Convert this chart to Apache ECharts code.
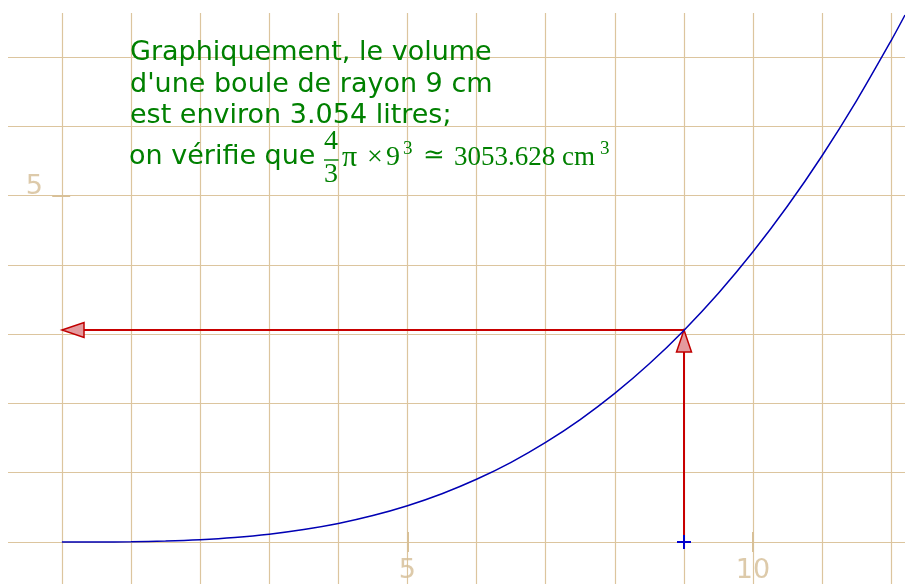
<!DOCTYPE html>
<html><head><meta charset="utf-8">
<script src="https://cdn.jsdelivr.net/npm/echarts@6/dist/echarts.min.js"></script>
<style>html,body{margin:0;padding:0;background:#fff}#c{width:905px;height:584px}</style>
</head><body><div id="c"></div>
<script>
// rayon (cm) and volume (litres)
const radius = [0,0.5,1,1.5,2,2.5,3,3.5,4,4.5,5,5.5,6,6.5,7,7.5,8,8.5,9,9.5,10,10.5,11,11.5,12,12.2];
const volume = [0,0.0005,0.0042,0.0141,0.0335,0.0654,0.113,0.180,0.268,0.382,0.524,0.697,0.905,1.150,1.437,1.767,2.145,2.572,3.054,3.591,4.189,4.849,5.575,6.371,7.238,7.606];
const xGridValues = [0,1,2,3,4,5,6,7,8,9,10,11,12];
const yGridValues = [0,1,2,3,4,5,6,7];
const xTickLabels = [5, 10];
const yTickLabels = [5];
const targetRadius = 9;
const targetVolume = 3.054;
const textLines = ["Graphiquement, le volume", "d'une boule de rayon 9 cm", "est environ 3.054 litres;"];
const formulaPrefix = "on vérifie que";
const fracNum = "4", fracDen = "3";
const formulaPi = "π", formulaTimes = "×", formulaNine = "9", formulaSup = "3", formulaRel = "≃", formulaValue = "3053.628", formulaUnit = "cm";

const GRID = '#dcc59e', TICK = '#d8c097', LABEL = '#d5bd95', GREEN = '#008000';
const SANS = 'DejaVu Sans', SERIF = 'Liberation Serif';

const chart = echarts.init(document.getElementById('c'), null, {renderer: 'canvas'});

function arrowItem(params, api) {
  const p1 = api.coord([api.value(0), api.value(1)]).map(Math.round);
  const p2 = api.coord([api.value(2), api.value(3)]).map(Math.round);
  const dx = p2[0]-p1[0], dy = p2[1]-p1[1];
  const L = Math.hypot(dx, dy), ux = dx/L, uy = dy/L;
  const hl = 22, hw = 7.5;
  const bx = p2[0]-ux*hl, by = p2[1]-uy*hl;
  const nx = -uy, ny = ux;
  return {type:'group', children:[
    {type:'line', shape:{x1:p1[0], y1:p1[1], x2:bx, y2:by}, style:{stroke:'#c80000', lineWidth:2}},
    {type:'polygon', shape:{points:[[p2[0],p2[1]],[bx+nx*hw,by+ny*hw],[bx-nx*hw,by-ny*hw]]},
     style:{fill:'#e49a9e', stroke:'#c00000', lineWidth:1.5}}
  ]};
}
function plusItem(params, api) {
  const p = api.coord([api.value(0), api.value(1)]).map(Math.round);
  const s = 7;
  return {type:'group', children:[
    {type:'line', shape:{x1:p[0]-s, y1:p[1], x2:p[0]+s, y2:p[1]}, style:{stroke:'#0000cc', lineWidth:2}},
    {type:'line', shape:{x1:p[0], y1:p[1]-s, x2:p[0], y2:p[1]+s}, style:{stroke:'#0000cc', lineWidth:2}}
  ]};
}

const tickSegments = [];
xTickLabels.forEach(v => tickSegments.push([{coord:[v,-0.145]},{coord:[v,0.145]}]));
yTickLabels.forEach(v => tickSegments.push([{coord:[-0.14,v]},{coord:[0.12,v]}]));

const gridLines = xGridValues.map(v => ({xAxis: v})).concat(yGridValues.map(v => ({yAxis: v})));

const mathStyle = {fontFamily: SERIF, fontSize: 27, fill: GREEN, verticalAlign: 'middle', align: 'left'};
const sansStyle = {fontFamily: SANS, fontSize: 27, fill: GREEN, verticalAlign: 'middle', align: 'left'};
const graphics = [];
function addText(x, y, style) { graphics.push({type:'text', x:x, y:y, z:100, style:style}); }
textLines.forEach((t, i) => addText(130, 53 + i*31.7, Object.assign({}, sansStyle, {text:t})));
addText(129, 157, Object.assign({}, sansStyle, {text:formulaPrefix}));
addText(331, 142, Object.assign({}, mathStyle, {text:fracNum, align:'center', fontSize:28}));
addText(331, 175, Object.assign({}, mathStyle, {text:fracDen, align:'center', fontSize:28}));
graphics.push({type:'line', z:100, shape:{x1:324, y1:160, x2:338.5, y2:160}, style:{stroke:GREEN, lineWidth:1.4}});
addText(342, 158, Object.assign({}, mathStyle, {text:formulaPi, fontSize:30}));
addText(367, 158, Object.assign({}, mathStyle, {text:formulaTimes, fontSize:28}));
addText(386, 158, Object.assign({}, mathStyle, {text:formulaNine, fontSize:28}));
addText(403, 149, Object.assign({}, mathStyle, {text:formulaSup, fontSize:19}));
addText(423, 156, Object.assign({}, mathStyle, {text:formulaRel, fontFamily:'DejaVu Serif', fontSize:26}));
addText(454, 158, Object.assign({}, mathStyle, {text:formulaValue}));
addText(562, 158, Object.assign({}, mathStyle, {text:formulaUnit}));
addText(600, 149, Object.assign({}, mathStyle, {text:formulaSup, fontSize:19}));

chart.setOption({
  animation: false,
  backgroundColor: '#fff',
  grid: {left: 8, right: 0, top: 13, bottom: 0, containLabel: false},
  xAxis: {type:'value', min:-0.78, max:12.2, show:false, splitLine:{show:false}},
  yAxis: {type:'value', min:-0.606, max:7.635, show:false, splitLine:{show:false}},
  graphic: graphics,
  series: [
    {type:'line', data:[], silent:true, z:1,
     markLine:{z:1, silent:true, symbol:'none', animation:false, label:{show:false},
       lineStyle:{color:GRID, width:1.2, type:'solid'}, data: gridLines}},
    {type:'line', data:[], silent:true, z:2,
     markLine:{z:2, silent:true, symbol:'none', animation:false, label:{show:false},
       lineStyle:{color:TICK, width:2, type:'solid'}, data: tickSegments}},
    {type:'scatter', silent:true, symbolSize:1, itemStyle:{color:'rgba(0,0,0,0)'}, z:3,
     data: xTickLabels.map(v => [v, 0, String(v)]),
     label:{show:true, position:'inside', offset:[0,29], formatter: p => p.value[2],
       color:LABEL, fontFamily:SANS, fontSize:27}},
    {type:'scatter', silent:true, symbolSize:1, itemStyle:{color:'rgba(0,0,0,0)'}, z:3,
     data: yTickLabels.map(v => [0, v, String(v)]),
     label:{show:true, position:'inside', offset:[-27.5,-9], formatter: p => p.value[2],
       color:LABEL, fontFamily:SANS, fontSize:27}},
    {type:'custom', renderItem: arrowItem, z:4, silent:true,
     data: [[targetRadius, 0, targetRadius, targetVolume], [targetRadius, targetVolume, 0, targetVolume]]},
    {type:'custom', renderItem: plusItem, z:5, silent:true, data: [[targetRadius, 0]]},
    {type:'line', z:6, silent:true, smooth:0.3, showSymbol:false, symbol:'none',
     data: radius.map((r,i) => [r, volume[i]]),
     lineStyle:{color:'#0000b4', width:1.5}}
  ]
});
</script></body></html>
